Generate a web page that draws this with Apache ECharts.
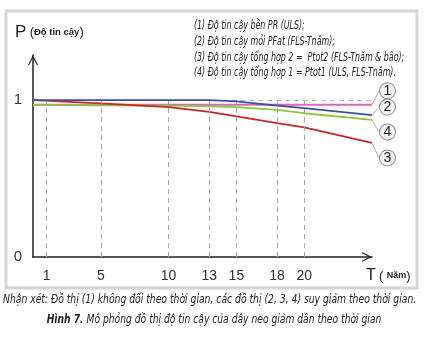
<!DOCTYPE html>
<html><head><meta charset="utf-8">
<script src="https://cdn.jsdelivr.net/npm/echarts@6/dist/echarts.min.js"></script>
<style>html,body{margin:0;padding:0;background:#fff}#c{width:428px;height:347px}</style>
</head><body><div id="c"></div>
<script>
// Data
const years = [0, 5, 10, 13, 15, 18, 20, 25];
const tickYears = [1, 5, 10, 13, 15, 18, 20];
const yTicks = [0, 1];
const s1Name = '(1) Độ tin cậy bền PR (ULS)';
const s2Name = '(2) Độ tin cậy mỏi PFat (FLS-Tnăm)';
const s3Name = '(3) Độ tin cậy tổng hợp 2 = Ptot2 (FLS-Tnăm & bão)';
const s4Name = '(4) Độ tin cậy tổng hợp 1 = Ptot1 (ULS, FLS-Tnăm)';
const p1 = [0.970, 0.970, 0.970, 0.970, 0.970, 0.970, 0.970, 0.970];
const p2 = [1.000, 1.000, 1.000, 0.999, 0.991, 0.965, 0.948, 0.904];
const p3 = [1.000, 0.979, 0.955, 0.924, 0.896, 0.853, 0.826, 0.727];
const p4 = [0.968, 0.967, 0.965, 0.960, 0.955, 0.937, 0.916, 0.873];
const legendLines = [
  '(1) Độ tin cậy bền PR (ULS);',
  '(2) Độ tin cậy mỏi PFat (FLS-Tnăm);',
  '(3) Độ tin cậy tổng hợp 2 =  Ptot2 (FLS-Tnăm & bão);',
  '(4) Độ tin cậy tổng hợp 1 = Ptot1 (ULS, FLS-Tnăm).'
];
const note = 'Nhận xét: Đồ thị (1) không đổi theo thời gian, các đồ thị (2, 3, 4) suy giảm theo thời gian.';
const figBold = 'Hình 7.';
const figText = ' Mô phỏng đồ thị độ tin cậy của dây neo giảm dần theo thời gian';

const chart = echarts.init(document.getElementById('c'), null, {renderer: 'canvas'});
const arrowPath = 'path://M0,12 L6,0 L12,12 L10.6,12 L6,3.2 L1.4,12 Z';
const narrow = 'Liberation Sans Narrow, DejaVu Sans Condensed, sans-serif';

function mkData(vals, num) {
  return years.map((t, i) => {
    if (i === years.length - 1) {
      return {
        value: [t, vals[i]],
        symbolSize: 1,
        label: {
          show: true, formatter: num, position: 'right', distance: 4,
          width: 15, height: 15, lineHeight: 15, align: 'center', verticalAlign: 'middle',
          borderRadius: 8, borderWidth: 1, borderColor: '#8a8a8a', backgroundColor: '#f3f3f3',
          fontSize: 14, color: '#222', fontFamily: 'Liberation Sans', opacity: 1
        }
      };
    }
    return {value: [t, vals[i]], symbolSize: 0};
  });
}
function lineSeries(name, vals, color, num, dx, dy, z) {
  return {
    type: 'line', name: name, data: mkData(vals, num), z: z,
    showSymbol: true, symbol: 'circle', itemStyle: {color: 'rgba(0,0,0,0)', borderWidth: 0},
    lineStyle: {color: color, width: 1.8}, smooth: false, silent: true,
    labelLayout: {dx: dx, dy: dy},
    labelLine: {show: true, lineStyle: {color: '#9a9a9a', width: 0.8}}
  };
}
const gridLines = tickYears.map(t => [{coord: [t, 0]}, {coord: [t, 1]}]);

chart.setOption({
  backgroundColor: '#fff',
  animation: false,
  grid: {left: 33, right: 56, top: 55, bottom: 90, containLabel: false, outerBoundsMode: 'none'},
  xAxis: {
    type: 'value', min: 0, max: 25, interval: 5,
    axisLine: {show: true, lineStyle: {color: '#222', width: 1.5}, symbol: ['none', arrowPath], symbolSize: [10, 10], symbolOffset: [0, -5]},
    axisTick: {show: false}, splitLine: {show: false},
    axisLabel: {customValues: tickYears, fontSize: 14, color: '#333', margin: 12, fontFamily: 'Liberation Sans'}
  },
  yAxis: {
    type: 'value', min: 0, max: 1.287, interval: 1,
    axisLine: {show: true, lineStyle: {color: '#222', width: 1.5}, symbol: ['none', arrowPath], symbolSize: [10, 10], symbolOffset: [0, -5]},
    axisTick: {show: false}, splitLine: {show: false},
    axisLabel: {customValues: yTicks, fontSize: 15, color: '#333', margin: 11, fontFamily: 'Liberation Sans'}
  },
  series: [
    {
      type: 'line', name: 'grid', data: [], z: 1, silent: true,
      markLine: {
        silent: true, symbol: ['none', 'none'], label: {show: false},
        lineStyle: {color: '#a8a8a8', type: [5, 4], width: 1},
        data: gridLines.concat([{yAxis: 1, lineStyle: {color: '#b8b8b8', type: [5, 4], width: 1.2}}])
      }
    },
    lineSeries(s1Name, p1, '#d46ab8', '1', 11, -14, 2),
    lineSeries(s4Name, p4, '#8dc63f', '4', 11, 12, 3),
    lineSeries(s3Name, p3, '#c8262c', '3', 11, 15, 4),
    lineSeries(s2Name, p2, '#3f4f9c', '2', 11, -8, 5)
  ],
  graphic: [
    {type: 'rect', z: -10, shape: {x: 6, y: 11, width: 411, height: 277}, style: {fill: 'none', stroke: '#d6d6d6', lineWidth: 3}},
    {type: 'text', x: 15, y: 32, style: {
      text: '{p|P} {b|(}{s|Độ tin cậy}{b|)}', textVerticalAlign: 'middle',
      rich: {p: {fontSize: 17, fontFamily: 'Liberation Sans', fill: '#222'},
             b: {fontSize: 13, fontFamily: 'Liberation Sans', fill: '#222'},
             s: {fontSize: 9.5, fontWeight: 'bold', fontFamily: 'Liberation Sans', fill: '#222'}}
    }},
    {type: 'text', x: 366, y: 276, style: {
      text: '{p|T} {b|(} {s|Năm}{b|)}', textVerticalAlign: 'middle',
      rich: {p: {fontSize: 16, fontFamily: 'Liberation Sans', fill: '#222'},
             b: {fontSize: 13, fontFamily: 'Liberation Sans', fill: '#222'},
             s: {fontSize: 9, fontWeight: 'bold', fontFamily: 'Liberation Sans', fill: '#222'}}
    }},
  ].concat(legendLines.map((t, i) => ({
    type: 'text', x: 194, y: [26, 42, 58, 73][i], scaleX: 0.765, style: {
      text: t, textVerticalAlign: 'middle', fontSize: 11.5, fontStyle: 'italic',
      fontFamily: narrow, fill: '#222'
    }
  }))).concat([
    {type: 'text', x: 3, y: 300, scaleX: 0.855, style: {
      text: note, textVerticalAlign: 'middle', fontSize: 12, fontStyle: 'italic',
      fontFamily: narrow, fill: '#222'
    }},
    {type: 'text', x: 214, y: 320, scaleX: 0.85, style: {
      text: '{b|' + figBold + '}{n|' + figText + '}', textAlign: 'center', textVerticalAlign: 'middle',
      rich: {b: {fontSize: 12, fontStyle: 'italic', fontWeight: 'bold', fontFamily: narrow, fill: '#222'},
             n: {fontSize: 12, fontStyle: 'italic', fontFamily: narrow, fill: '#222'}}
    }}
  ])
});
</script></body></html>
